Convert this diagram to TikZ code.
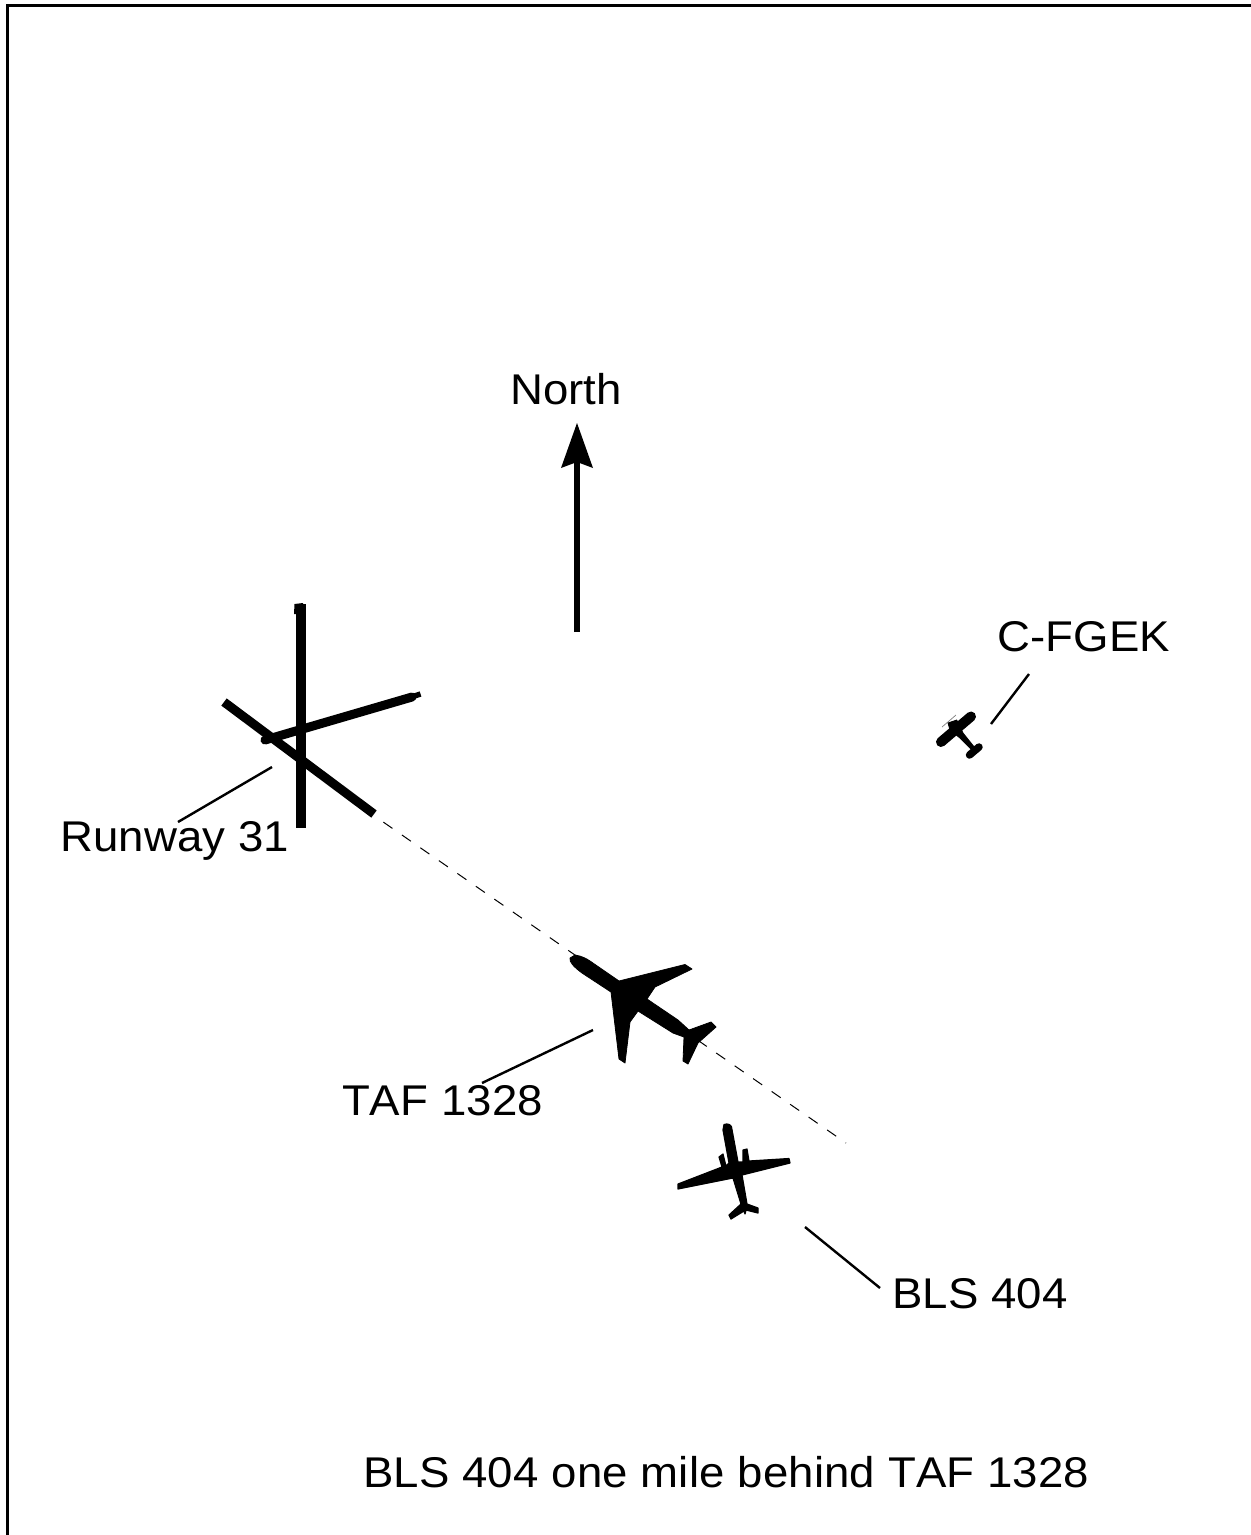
\documentclass[tikz,border=0pt]{standalone}
\usepackage{fontspec}
\setmainfont{Liberation Sans}[FakeStretch=1.06,LetterSpace=0.4,Kerning=Off]
\begin{document}
\begin{tikzpicture}[x=1pt,y=-1pt,
  lbl/.style={inner sep=0pt,outer sep=0pt,anchor=base west,font=\fontsize{43}{50}\selectfont},
  leader/.style={line width=2.4pt},
  rwy/.style={line width=9pt},
  craft/.style={fill=black,draw=black,line width=.8pt,line join=round}]
\useasboundingbox (0,0) rectangle (1251,1535);
% frame
\draw[line width=3.2pt] (7.5,1535) -- (7.5,5.5) -- (1251,5.5);
% north arrow
\coordinate (nb) at (577,632);
\coordinate (nt) at (577,423);
\draw[line width=6pt] (nb) -- (577,460);
\fill (nt) -- (593,468) -- (577,462) -- (561,468) -- cycle;
\node[lbl] (north) at (510,404) {North};
% runways
\draw[line width=10pt] (300.5,604) -- (300.5,828);
\fill (294.5,604) -- (303,603) -- (303,614) -- (294,614) -- cycle;
\draw[rwy] (224,702) -- (374,814);
\draw[rwy,line cap=round] (265,740) -- (412,697);
\draw[line width=5.5pt] (410,697.5) -- (420.5,694);
% approach line
\coordinate (da) at (376,817);
\coordinate (db) at (846,1143);
\draw[line width=1pt,dash pattern=on 11pt off 11.5pt,dash phase=13.5pt] (da) -- (db);
% TAF 1328
\fill[craft] (575,955) .. controls (582,956) and (587,959) .. (590,961) -- (619,981) -- (685,964.5) -- (692,969) -- (655,987) -- (647,999) -- (678,1020) -- (689,1030) -- (711,1022) -- (716,1027) -- (698,1043) -- (688,1064) -- (683,1061) -- (684,1037) -- (673,1033) -- (638,1011) -- (630,1022) -- (625,1063) -- (619,1059) -- (611,992) -- (582,973) .. controls (574,967) and (569,962) .. (570,958) -- cycle;
% BLS 404
\fill[craft,line width=1.2pt] (724,1124.5) .. controls (728,1123) and (731,1125) .. (731.5,1127) -- (738,1162) -- (743,1162) -- (743,1150) -- (747,1149) -- (749,1161) -- (789,1158.5) -- (790,1163) -- (742,1175) -- (747,1204) -- (758,1208) -- (758,1213) -- (746,1210) -- (745,1214) -- (744,1211) -- (731,1219) -- (729,1215) -- (741,1204) -- (733,1178) -- (678,1189) -- (678,1184) -- (722,1167) -- (719,1157) -- (723,1154) -- (726,1166) -- (729,1163) -- (723,1130) -- cycle;
% C-FGEK
\draw[gray,line width=.7pt] (942,727) -- (956,715);
\draw[line width=10pt,line cap=round] (941,742) -- (971,716.5);
\fill[craft] (948,723) -- (956.7,720) -- (963,733) -- (975,748) -- (972.7,750.7) -- (960,738) -- (950,730) -- cycle;
\draw[line width=7.5pt,line cap=round] (969.5,755) -- (979,747);
% labels & leaders
\node[lbl] (rw) at (60,851) {Runway 31};
\coordinate (rwa) at (178,822); \coordinate (rwb) at (272,767);
\draw[leader] (rwa) -- (rwb);
\node[lbl] (taf) at (342,1115) {TAF 1328};
\coordinate (tafa) at (482,1083); \coordinate (tafb) at (593,1030);
\draw[leader] (tafa) -- (tafb);
\node[lbl] (bls) at (892,1308) {BLS 404};
\coordinate (blsa) at (880,1288); \coordinate (blsb) at (805,1227);
\draw[leader] (blsa) -- (blsb);
\node[lbl] (cf) at (997,651) {C-FGEK};
\coordinate (cfa) at (1029,674); \coordinate (cfb) at (991,724);
\draw[leader] (cfa) -- (cfb);
\node[lbl] (cap) at (363,1487) {BLS 404 one mile behind TAF 1328};
\end{tikzpicture}
\end{document}
